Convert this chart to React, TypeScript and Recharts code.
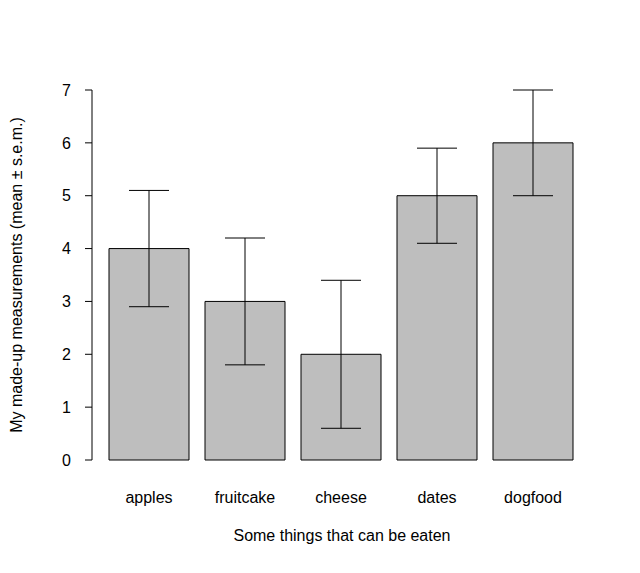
import React from "react";
import { BarChart, Bar, XAxis, YAxis, ErrorBar } from "recharts";

const categories = ["apples", "fruitcake", "cheese", "dates", "dogfood"];
const means = [4, 3, 2, 5, 6];
const sems = [1.1, 1.2, 1.4, 0.9, 1.0];
const yTicks = [0, 1, 2, 3, 4, 5, 6, 7];

const data = categories.map((name, i) => ({ name, mean: means[i], sem: sems[i] }));

const font = "'Liberation Sans', Arial, sans-serif";

export default function App() {
  return (
    <div style={{ position: "absolute", left: 0, top: 0, width: 640, height: 573, background: "#fff", fontFamily: font }}>
      <BarChart
        width={640}
        height={573}
        data={data}
        margin={{ top: 90, right: 48, bottom: 83, left: 0 }}
        barCategoryGap={8}
      >
        <XAxis
          dataKey="name"
          axisLine={false}
          tickLine={false}
          tickMargin={26}
          padding={{ left: 9, right: 11 }}
          tick={{ fill: "#000", fontSize: 16, fontFamily: font }}
        />
        <YAxis
          width={92}
          domain={[0, 7]}
          ticks={yTicks}
          interval={0}
          tickSize={7}
          tickMargin={14}
          axisLine={{ stroke: "#000" }}
          tickLine={{ stroke: "#000" }}
          tick={{ fill: "#000", fontSize: 16, fontFamily: font }}
        />
        <Bar dataKey="mean" fill="#bebebe" stroke="#000" strokeWidth={1} isAnimationActive={false}>
          <ErrorBar dataKey="sem" direction="y" width={20} stroke="#000" strokeWidth={1} />
        </Bar>
      </BarChart>
      <div style={{ position: "absolute", left: 44, width: 596, top: 527, textAlign: "center", fontSize: 16 }}>
        Some things that can be eaten
      </div>
      <div
        style={{
          position: "absolute",
          left: 17,
          top: 275,
          fontSize: 16,
          whiteSpace: "nowrap",
          transform: "translate(-50%, -50%) rotate(-90deg)",
        }}
      >
        My made-up measurements (mean ± s.e.m.)
      </div>
    </div>
  );
}
